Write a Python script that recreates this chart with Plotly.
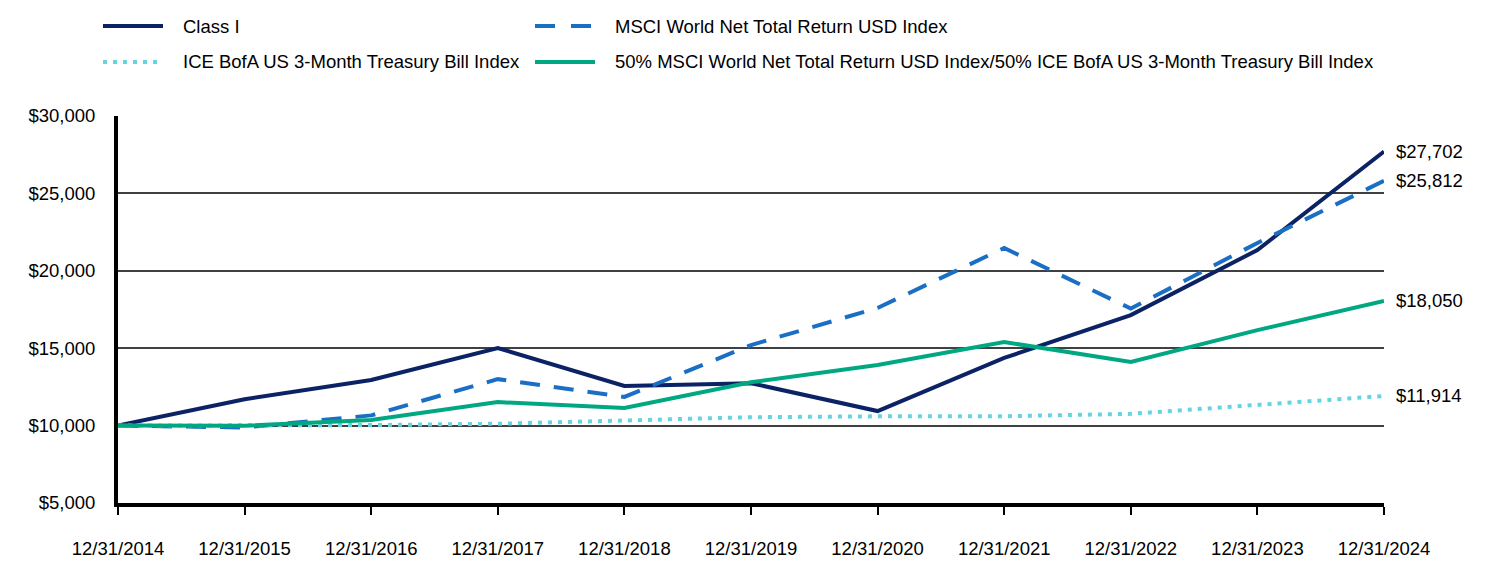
import plotly.graph_objects as go

dates = ["12/31/2014", "12/31/2015", "12/31/2016", "12/31/2017", "12/31/2018", "12/31/2019",
         "12/31/2020", "12/31/2021", "12/31/2022", "12/31/2023", "12/31/2024"]
class_i = [10000, 11700, 12950, 15010, 12560, 12740, 10940, 14370, 17140, 21340, 27702]
msci = [10000, 9880, 10660, 13000, 11850, 15200, 17600, 21470, 17560, 21800, 25812]
tbill = [10000, 10003, 10035, 10120, 10310, 10540, 10600, 10605, 10760, 11330, 11914]
blend = [10000, 9990, 10360, 11520, 11140, 12800, 13910, 15400, 14110, 16170, 18050]
end_labels = ["$27,702", "$25,812", "$11,914", "$18,050"]
names = ["Class I", "MSCI World Net Total Return USD Index",
         "ICE BofA US 3-Month Treasury Bill Index",
         "50% MSCI World Net Total Return USD Index/50% ICE BofA US 3-Month Treasury Bill Index"]

FONT = "Arial, Liberation Sans, sans-serif"
FS = 18.5
W, H = 1512, 588
ML, MR, MT, MB = 118, 128, 116, 85
PW, PH = W - ML - MR, H - MT - MB

styles = [
    dict(color="#0b2265", width=4),
    dict(color="#1a6fc4", width=4, dash="20px,14px"),
    dict(color="#66d3e0", width=4, dash="4px,6px"),
    dict(color="#00a882", width=4),
]
values = [class_i, msci, tbill, blend]

fig = go.Figure()
for name, vals, line in zip(names, values, styles):
    fig.add_trace(go.Scatter(x=dates, y=vals, mode="lines", name=name, line=line,
                             showlegend=False))

for vals, lab in zip(values, end_labels):
    fig.add_annotation(x=dates[-1], y=vals[-1], text=lab, showarrow=False, xanchor="left",
                       xshift=10, font=dict(family=FONT, size=FS, color="#000"))

# manual legend (two columns)
def px_x(px):
    return (px - ML) / PW

def px_y(py):
    return (H - MB - py) / PH

leg_pos = [(103, 26), (535, 26), (103, 62), (535, 62)]
for name, line, (lx, ly) in zip(names, styles, leg_pos):
    sline = dict(color=line["color"], width=line["width"])
    if "dash" in line:
        sline["dash"] = "20px,16px" if line["dash"].startswith("20") else "4px,6px"
    fig.add_shape(type="line", xref="paper", yref="paper",
                  x0=px_x(lx), x1=px_x(lx + 60), y0=px_y(ly), y1=px_y(ly), line=sline)
    fig.add_annotation(xref="paper", yref="paper", x=px_x(lx + 78), y=px_y(ly), text=name,
                       showarrow=False, xanchor="left", yanchor="middle",
                       font=dict(family=FONT, size=FS, color="#000"))

fig.update_layout(
    width=W, height=H,
    margin=dict(l=ML, r=MR, t=MT, b=MB),
    paper_bgcolor="white", plot_bgcolor="white",
    font=dict(family=FONT, size=FS, color="#000"),
    showlegend=False,
    xaxis=dict(type="category", range=[0, 10], showgrid=False, showline=True, linecolor="#000",
               linewidth=4, ticks="outside", ticklen=8, tickwidth=2, tickcolor="#000",
               ticklabelstandoff=18, tickfont=dict(family=FONT, size=FS)),
    yaxis=dict(range=[5000, 30000], tickvals=[5000, 10000, 15000, 20000, 25000, 30000],
               tickformat="$,.0f", showgrid=True, gridcolor="#404040", gridwidth=2,
               showline=True, linecolor="#000", linewidth=4, ticks="", zeroline=False,
               ticklabelstandoff=15, tickfont=dict(family=FONT, size=FS)),
)
fig.write_html("out.html")
